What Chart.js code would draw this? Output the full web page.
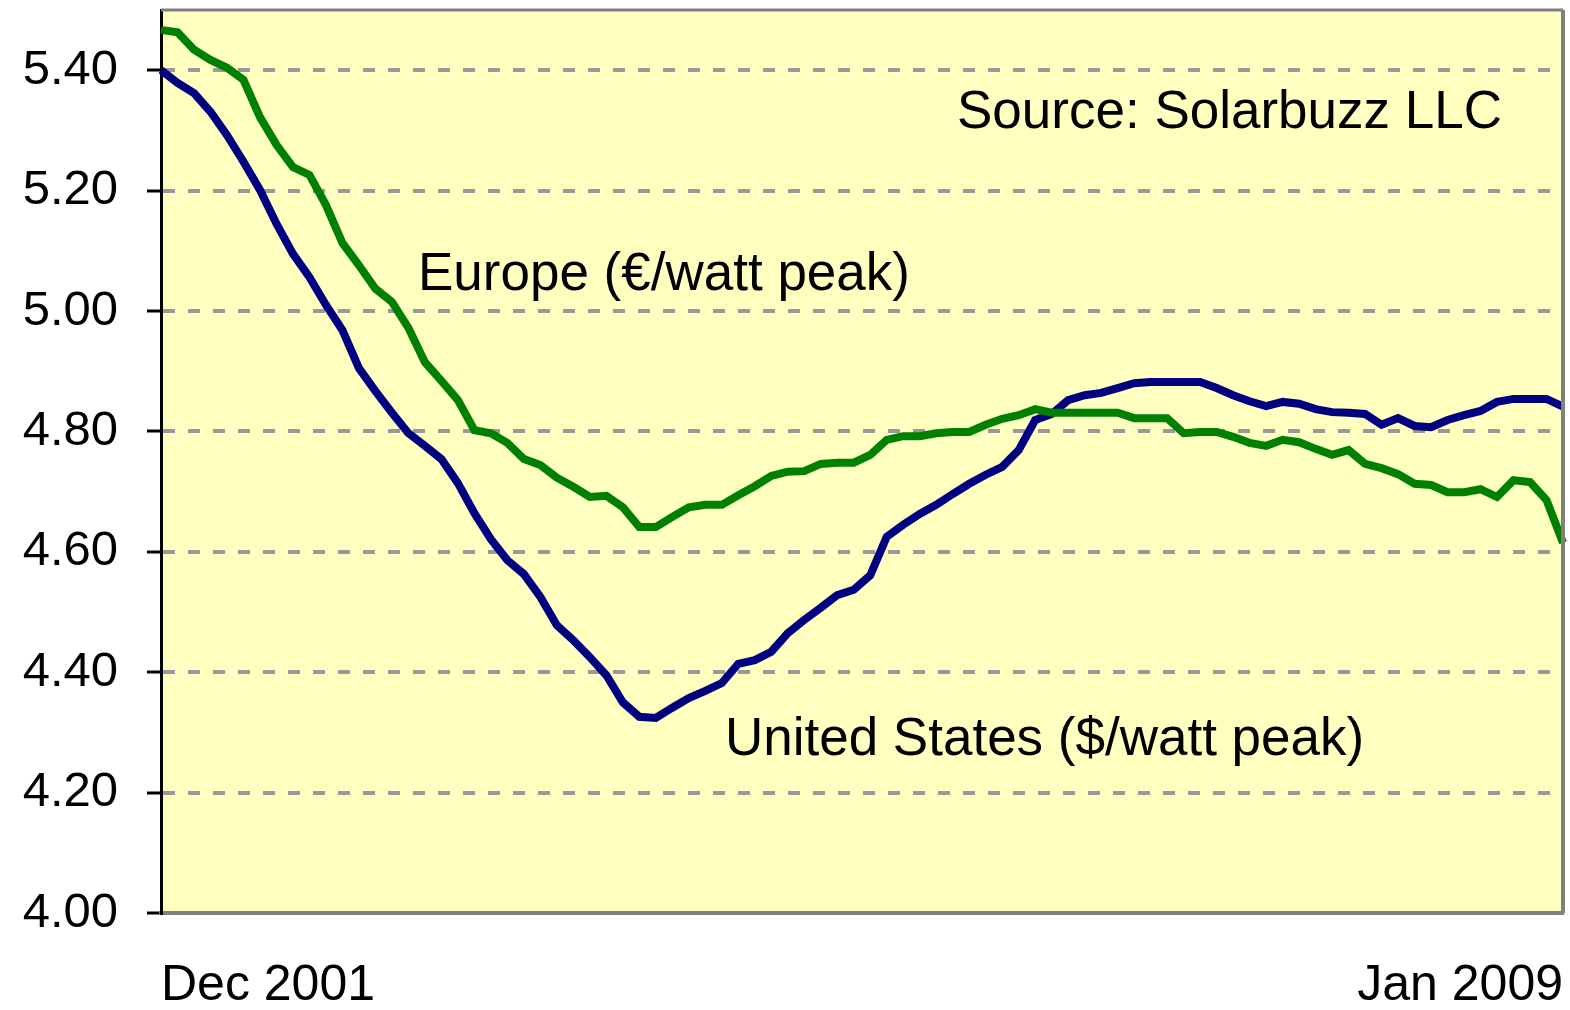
<!DOCTYPE html>
<html>
<head>
<meta charset="utf-8">
<script src="https://cdn.jsdelivr.net/npm/chart.js@4.4.1/dist/chart.umd.min.js"></script>
<style>
  html, body { margin: 0; padding: 0; background: #ffffff; }
  #wrap { width: 1570px; height: 1010px; }
</style>
</head>
<body>
<div id="wrap"><canvas id="canvas"></canvas></div>
<script>
// monthly categories, Dec 2001 .. Jan 2009
const monthNames = ['Jan','Feb','Mar','Apr','May','Jun','Jul','Aug','Sep','Oct','Nov','Dec'];
const months = [];
for (let y = 2001, m = 11; y < 2009 || (y === 2009 && m === 0); ) {
  months.push(monthNames[m] + ' ' + y);
  m++;
  if (m === 12) { m = 0; y++; }
}

// Europe, EUR per watt peak
const europe = [
  5.467, 5.463, 5.434, 5.417, 5.404, 5.384, 5.322, 5.276, 5.239, 5.226,
  5.176, 5.113, 5.076, 5.037, 5.015, 4.972, 4.915, 4.884, 4.852, 4.802,
  4.797, 4.781, 4.754, 4.744, 4.723, 4.708, 4.691, 4.693, 4.674, 4.641,
  4.641, 4.658, 4.674, 4.678, 4.678, 4.694, 4.709, 4.726, 4.733, 4.734,
  4.746, 4.748, 4.748, 4.761, 4.786, 4.792, 4.792, 4.797, 4.799, 4.799,
  4.811, 4.821, 4.827, 4.837, 4.831, 4.831, 4.831, 4.831, 4.831, 4.822,
  4.822, 4.822, 4.797, 4.799, 4.799, 4.791, 4.781, 4.776, 4.786, 4.782,
  4.771, 4.761, 4.769, 4.746, 4.739, 4.729, 4.713, 4.711, 4.699, 4.699,
  4.704, 4.691, 4.719, 4.716, 4.686, 4.615
];

// United States, USD per watt peak
const unitedStates = [
  5.400, 5.379, 5.362, 5.331, 5.292, 5.248, 5.201, 5.145, 5.095, 5.056,
  5.010, 4.968, 4.905, 4.867, 4.831, 4.797, 4.776, 4.754, 4.714, 4.664,
  4.621, 4.586, 4.563, 4.525, 4.478, 4.453, 4.425, 4.395, 4.350, 4.326,
  4.324, 4.341, 4.357, 4.369, 4.382, 4.414, 4.420, 4.434, 4.465, 4.487,
  4.507, 4.528, 4.537, 4.561, 4.625, 4.645, 4.663, 4.678, 4.696, 4.713,
  4.728, 4.741, 4.769, 4.819, 4.829, 4.852, 4.860, 4.864, 4.872, 4.880,
  4.882, 4.882, 4.882, 4.882, 4.872, 4.860, 4.850, 4.842, 4.849, 4.846,
  4.837, 4.832, 4.831, 4.829, 4.811, 4.822, 4.809, 4.807, 4.819, 4.827,
  4.834, 4.849, 4.854, 4.854, 4.854, 4.841
];

// text placed inside the plot, anchored to (month index, value)
const notes = [
  {text: 'Source: Solarbuzz LLC', at: 48.26, value: 5.304},
  {text: 'Europe (\u20AC/watt peak)', at: 15.58, value: 5.035},
  {text: 'United States ($/watt peak)', at: 34.19, value: 4.2625}
];

const FONT = '"Liberation Sans", Arial, sans-serif';

const plotFrame = {
  id: 'plotFrame',
  beforeDraw(chart) {
    const {ctx, chartArea: a} = chart;
    ctx.save();
    ctx.fillStyle = '#FFFFC0';
    ctx.fillRect(a.left, a.top, a.right - a.left, a.bottom - a.top);
    ctx.restore();
  },
  afterDatasetsDraw(chart) {
    const {ctx, chartArea: a, scales} = chart;
    ctx.save();
    ctx.strokeStyle = '#808080';
    ctx.lineWidth = 3;
    ctx.beginPath();
    ctx.moveTo(a.left, a.top);
    ctx.lineTo(a.right, a.top);
    ctx.stroke();
    ctx.lineWidth = 4;
    ctx.beginPath();
    ctx.moveTo(a.right, a.top);
    ctx.lineTo(a.right, a.bottom);
    ctx.stroke();

    ctx.fillStyle = '#000000';
    ctx.font = '53px ' + FONT;
    ctx.textAlign = 'left';
    ctx.textBaseline = 'alphabetic';
    notes.forEach(n => {
      ctx.fillText(n.text, scales.x.getPixelForValue(n.at), scales.y.getPixelForValue(n.value));
    });
    ctx.restore();
  }
};

window.onload = () => {
  const ctx = document.getElementById('canvas').getContext('2d');
  window.myLine = new Chart(ctx, {
    type: 'line',
    data: {
      labels: months,
      datasets: [{
        label: 'Europe',
        data: europe,
        borderColor: '#008000',
        borderWidth: 8,
        pointRadius: 0,
        tension: 0,
        fill: false
      }, {
        label: 'United States',
        data: unitedStates,
        borderColor: '#000080',
        borderWidth: 8,
        pointRadius: 0,
        tension: 0,
        fill: false
      }]
    },
    options: {
      responsive: true,
      maintainAspectRatio: false,
      animation: false,
      layout: {padding: {top: 10, right: 7, left: 0, bottom: 0}},
      plugins: {
        legend: {display: false},
        title: {display: false},
        tooltip: {enabled: false}
      },
      scales: {
        x: {
          offset: false,
          grid: {display: false, drawTicks: false},
          border: {display: true, color: '#808080', width: 4},
          afterBuildTicks: scale => {
            const t = scale.ticks;
            scale.ticks = [t[0], t[t.length - 1]];
          },
          afterFit: scale => {
            scale.height = 97;
            scale.paddingLeft = 0;
            scale.paddingRight = 0;
          },
          ticks: {
            autoSkip: false,
            maxRotation: 0,
            minRotation: 0,
            align: 'inner',
            padding: 43,
            color: '#000000',
            font: {family: FONT, size: 50}
          }
        },
        y: {
          min: 4.0,
          max: 5.5,
          afterBuildTicks: scale => {
            scale.ticks = scale.ticks.filter(t => t.value < 5.45);
          },
          afterFit: scale => {
            scale.width = 161;
            scale.paddingTop = 0;
            scale.paddingBottom = 0;
          },
          grid: {
            color: '#999999',
            lineWidth: 4,
            drawTicks: true,
            tickLength: 14,
            tickColor: '#000000',
            tickWidth: 3,
            tickBorderDash: []
          },
          border: {display: true, color: '#000000', width: 3, dash: [12, 13]},
          ticks: {
            stepSize: 0.2,
            padding: 29,
            color: '#000000',
            font: {family: FONT, size: 49},
            callback: v => Number(v).toFixed(2)
          }
        }
      }
    },
    plugins: [plotFrame]
  });
};
</script>
</body>
</html>
